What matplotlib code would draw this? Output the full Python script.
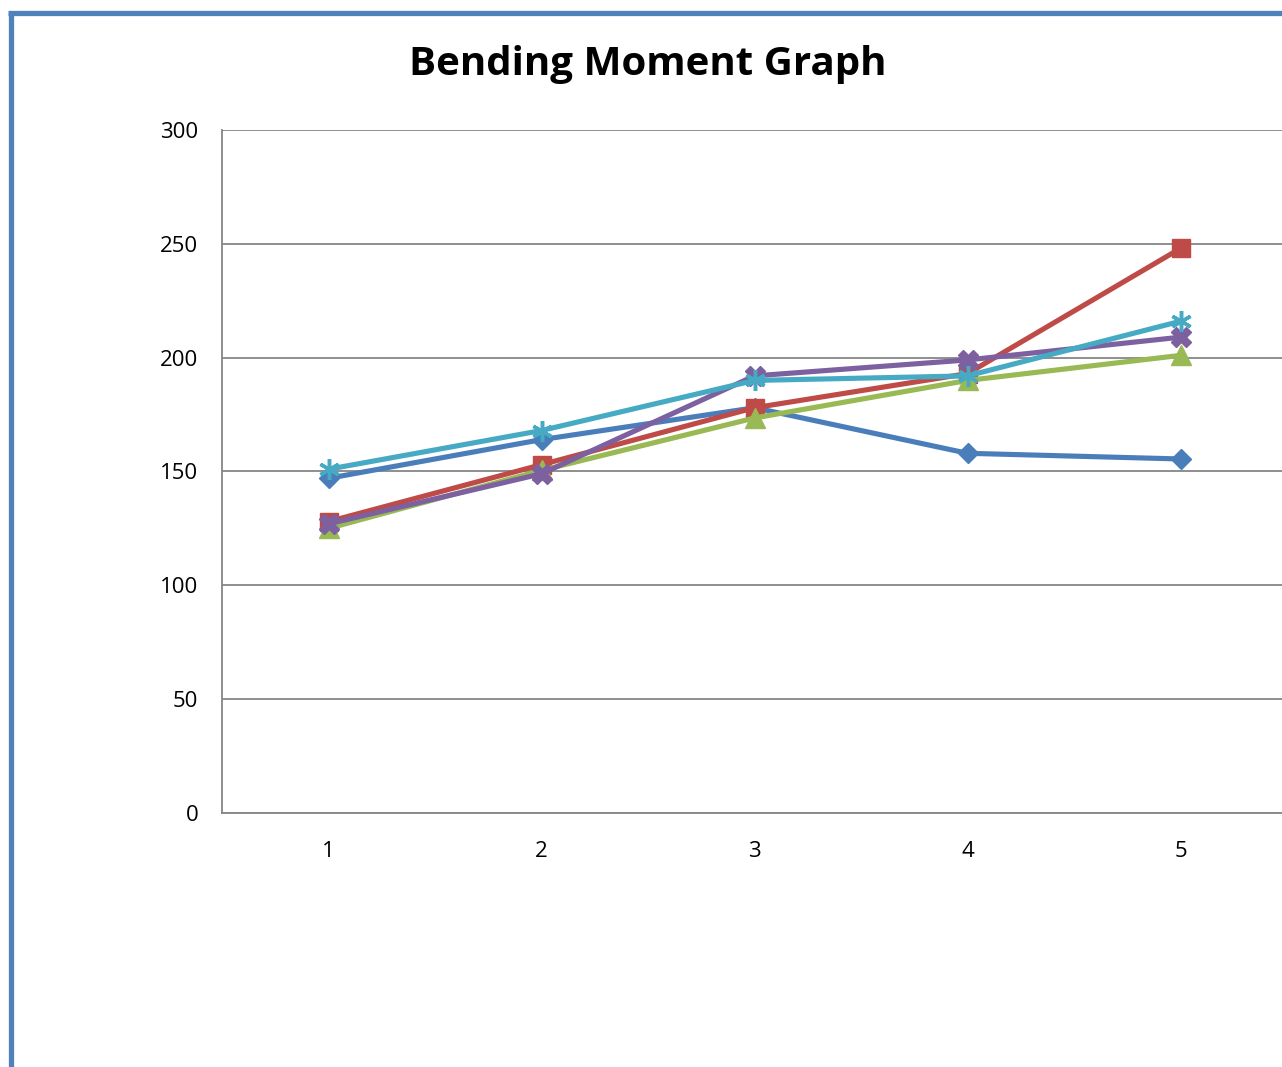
import matplotlib.pyplot as plt
from matplotlib.lines import Line2D

# data
categories = [1, 2, 3, 4, 5]
series_blue = [147, 164, 178, 158, 155.5]
series_red = [128, 153, 178, 193, 248]
series_green = [125, 150.5, 173.5, 190, 201]
series_purple = [127, 149, 192, 199, 209]
series_cyan = [151, 168, 190, 192, 216]
yticks = [0, 50, 100, 150, 200, 250, 300]

W, H = 1282, 1067
fig = plt.figure(figsize=(W / 100, H / 100), dpi=100)
fig.patch.set_facecolor("white")

# blue frame on left and top (chart area border)
fig.add_artist(Line2D([10.5 / W, 10.5 / W], [0, 1 - 12.5 / H], color="#4F81BD", lw=3.8,
                      transform=fig.transFigure, solid_capstyle="butt"))
fig.add_artist(Line2D([8 / W, 1], [1 - 12.5 / H, 1 - 12.5 / H], color="#4F81BD", lw=3.8,
                      transform=fig.transFigure, solid_capstyle="butt"))

ax = fig.add_axes([222 / W, 1 - 813 / H, 1065 / W, 683 / H])

lw = 3.7
ax.plot(categories, series_blue, color="#4A7EBB", lw=lw, marker="D", ms=10, mec="#4A7EBB")
ax.plot(categories, series_red, color="#BE4B48", lw=lw, marker="s", ms=13, mec="#BE4B48")
ax.plot(categories, series_green, color="#98B954", lw=lw, marker="^", ms=14, mec="#98B954")
ax.plot(categories, series_purple, color="#7D60A0", lw=lw, marker="X", ms=14, mec="#7D60A0")
ax.plot(categories, series_cyan, color="#46AAC5", lw=lw, marker=(6, 2, 0), ms=15,
        mec="#46AAC5", mew=2.5)

ax.set_xlim(0.5, 5.5)
ax.set_ylim(0, 300)
ax.set_yticks(yticks)
ax.set_xticks(categories)
ax.yaxis.grid(True, color="#868686", lw=1.3)
ax.set_axisbelow(True)
for s in ["top", "right"]:
    ax.spines[s].set_visible(False)
for s in ["left", "bottom"]:
    ax.spines[s].set_color("#868686")
    ax.spines[s].set_linewidth(1.3)
ax.tick_params(axis="both", length=0, labelsize=16)
ax.tick_params(axis="y", pad=17)
ax.tick_params(axis="x", pad=20)
for lab in ax.get_xticklabels() + ax.get_yticklabels():
    lab.set_fontfamily("Open Sans")

fig.text(648 / W, 1 - 65 / H, "Bending Moment Graph", ha="center", va="center",
         fontsize=29, fontweight="bold", family="Open Sans")

fig.savefig("out.png", dpi=100)
